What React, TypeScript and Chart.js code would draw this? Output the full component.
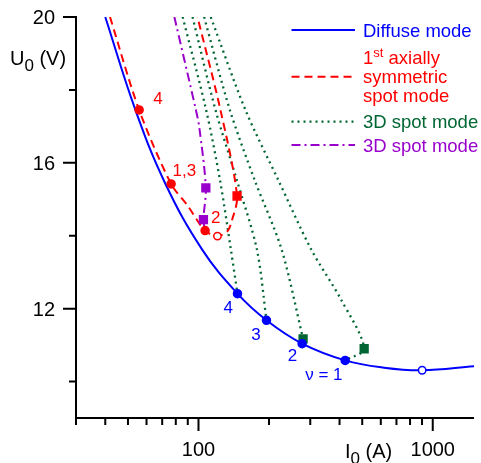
import React, { useEffect, useRef } from 'react';
import { Chart, registerables } from 'chart.js';

Chart.register(...registerables);

// ---------- data (I0 in A, U0 in V) ----------
// Diffuse mode
const diffuseCurrent = [40.0, 53.8, 72.3, 103.7, 146.7, 195.1, 276.9, 422.8, 619, 901, 1500];
const diffuseVoltage = [20.0, 17.45, 15.42, 13.62, 12.41, 11.68, 11.04, 10.58, 10.38, 10.31, 10.42];

// 1st axially symmetric spot mode
const axialCurrent = [41.9, 55.8, 76.4, 90.0, 106.7, 120.5, 132.8, 138.8, 146.1, 124.1, 99.0];
const axialVoltage = [20.0, 17.45, 15.42, 14.82, 14.14, 13.99, 14.12, 14.41, 15.09, 17.45, 20.0];

// 3D spot mode (purple)
const purpleCurrent = [78.9, 97.5, 100.7, 107.5, 105.0, 106.7];
const purpleVoltage = [20.0, 17.45, 16.99, 15.31, 14.44, 14.14];

// 3D spot modes (green)
const green1Current = [85.6, 107.8, 123.5, 137.5, 146.7];
const green1Voltage = [20.0, 17.45, 15.53, 13.62, 12.41];
const green2Current = [94.3, 118.2, 145.7, 177.6, 195.1];
const green2Voltage = [20.0, 17.45, 15.53, 13.62, 11.68];
const green3Current = [105.7, 136.1, 173.6, 226.4, 279.6];
const green3Voltage = [20.0, 17.45, 15.53, 13.62, 11.17];
const green4Current = [112.8, 158.6, 219.0, 303.0, 405.9, 509.6, 422.8];
const green4Voltage = [20.0, 17.45, 15.53, 13.62, 12.25, 10.9, 10.58];

// markers
const blueDotCurrent = [146.7, 195.1, 276.9, 422.8];
const blueDotVoltage = [12.41, 11.68, 11.04, 10.58];
const blueOpenCurrent = [901];
const blueOpenVoltage = [10.31];
const redDotCurrent = [55.8, 76.4, 106.7];
const redDotVoltage = [17.45, 15.42, 14.14];
const redOpenCurrent = [120.5];
const redOpenVoltage = [13.99];
const redSquareCurrent = [146.1];
const redSquareVoltage = [15.09];
const greenSquareCurrent = [279.6, 509.6];
const greenSquareVoltage = [11.17, 10.9];
const purpleSquareCurrent = [107.5, 105.0];
const purpleSquareVoltage = [15.31, 14.44];

// point annotations
const redLabels = ['4', '1,3', '2'];
const redLabelCurrent = [67.1, 87.0, 118.5];
const redLabelVoltage = [17.74, 15.78, 14.48];
const blueLabels = ['4', '3', '2', 'ν = 1'];
const blueLabelCurrent = [133.9, 175.8, 252, 343];
const blueLabelVoltage = [12.0, 11.26, 10.7, 10.17];

// axes
const xLabelTicks = [100, 1000];
const xMinorTicks = [30, 40, 50, 60, 70, 80, 90, 200, 300, 400, 500, 600, 700, 800, 900];
const yLabelTicks = [12, 16, 20];
const yMinorTicks = [10, 14, 18];

// legend
const legendDiffuse = 'Diffuse mode';
const legendAxial = ['1', 'st', ' axially', 'symmetric', 'spot mode'];
const legend3D = '3D spot mode';

const FONT = "'Liberation Sans', Arial, Helvetica, sans-serif";
const BLUE = '#0000ff';
const RED = '#ff0000';
const GREEN = '#006633';
const PURPLE = '#9900cc';
const GREEN_DASH = [2, 4];

const pts = (xs: number[], ys: number[]) => xs.map((x, i) => ({ x, y: ys[i] }));

const lineDs = (label: string, xs: number[], ys: number[], color: string, width: number, dash: number[], tension: number) => ({
  label,
  data: pts(xs, ys),
  showLine: true,
  borderColor: color,
  backgroundColor: color,
  borderWidth: width,
  borderDash: dash,
  borderCapStyle: 'butt',
  pointRadius: 0,
  pointHoverRadius: 0,
  tension,
  fill: false,
  order: 2,
});

const markerDs = (label: string, xs: number[], ys: number[], style: string, radius: number, fillC: string, stroke: string) => ({
  label,
  data: pts(xs, ys),
  showLine: false,
  pointStyle: style,
  pointRadius: radius,
  pointHoverRadius: radius,
  pointBackgroundColor: fillC,
  pointBorderColor: stroke,
  pointBorderWidth: 1.5,
  borderColor: stroke,
  backgroundColor: fillC,
  order: 1,
});

const overlay = {
  id: 'overlay',
  afterDraw(chart: any) {
    const ctx = chart.ctx as CanvasRenderingContext2D;
    const xs = chart.scales.x;
    const ys = chart.scales.y;
    const a = chart.chartArea;
    ctx.save();

    // axes
    ctx.strokeStyle = '#000';
    ctx.lineWidth = 2;
    ctx.lineCap = 'butt';
    ctx.beginPath();
    ctx.moveTo(a.left, a.top - 1);
    ctx.lineTo(a.left, a.bottom + 1);
    ctx.moveTo(a.left - 1, a.bottom);
    ctx.lineTo(a.right, a.bottom);
    ctx.stroke();

    // tick marks
    ctx.beginPath();
    for (const v of xMinorTicks) {
      const p = xs.getPixelForValue(v);
      ctx.moveTo(p, a.bottom);
      ctx.lineTo(p, a.bottom + 7);
    }
    for (const v of xLabelTicks) {
      const p = xs.getPixelForValue(v);
      ctx.moveTo(p, a.bottom);
      ctx.lineTo(p, a.bottom + 13);
    }
    for (const v of yMinorTicks) {
      const p = ys.getPixelForValue(v);
      ctx.moveTo(a.left, p);
      ctx.lineTo(a.left - 7, p);
    }
    for (const v of yLabelTicks) {
      const p = ys.getPixelForValue(v);
      ctx.moveTo(a.left, p);
      ctx.lineTo(a.left - 13, p);
    }
    ctx.stroke();

    // axis titles with subscripts
    const sub = (main: string, s: string, rest: string, x: number, y: number) => {
      ctx.fillStyle = '#000';
      ctx.textAlign = 'left';
      ctx.textBaseline = 'alphabetic';
      ctx.font = `20px ${FONT}`;
      ctx.fillText(main, x, y);
      let cx = x + ctx.measureText(main).width;
      ctx.font = `17px ${FONT}`;
      ctx.fillText(s, cx, y + 6);
      cx += ctx.measureText(s).width;
      ctx.font = `20px ${FONT}`;
      ctx.fillText(rest, cx, y);
    };
    sub('U', '0', ' (V)', 10, 64.5);
    sub('I', '0', ' (A)', 345, 457.5);

    // point annotations
    ctx.font = `17px ${FONT}`;
    ctx.textAlign = 'center';
    ctx.textBaseline = 'middle';
    ctx.fillStyle = RED;
    redLabels.forEach((t, i) => {
      ctx.fillText(t, xs.getPixelForValue(redLabelCurrent[i]), ys.getPixelForValue(redLabelVoltage[i]));
    });
    ctx.fillStyle = BLUE;
    blueLabels.forEach((t, i) => {
      ctx.fillText(t, xs.getPixelForValue(blueLabelCurrent[i]), ys.getPixelForValue(blueLabelVoltage[i]));
    });

    // legend
    const lx0 = 291.5;
    const lx1 = 355;
    const tx = 363;
    const legLine = (y: number, color: string, width: number, dash: number[]) => {
      ctx.save();
      ctx.strokeStyle = color;
      ctx.lineWidth = width;
      ctx.setLineDash(dash);
      ctx.beginPath();
      ctx.moveTo(lx0, y);
      ctx.lineTo(lx1, y);
      ctx.stroke();
      ctx.restore();
    };
    ctx.textAlign = 'left';
    ctx.textBaseline = 'alphabetic';
    const LF = `18.5px ${FONT}`;

    legLine(30, BLUE, 2, []);
    ctx.font = LF;
    ctx.fillStyle = BLUE;
    ctx.fillText(legendDiffuse, tx, 36.5);

    legLine(76.7, RED, 2, [8, 5]);
    ctx.fillStyle = RED;
    ctx.font = LF;
    ctx.fillText(legendAxial[0], tx, 64);
    let cx = tx + ctx.measureText(legendAxial[0]).width;
    ctx.font = `13px ${FONT}`;
    ctx.fillText(legendAxial[1], cx, 57);
    cx += ctx.measureText(legendAxial[1]).width;
    ctx.font = LF;
    ctx.fillText(legendAxial[2], cx, 64);
    ctx.fillText(legendAxial[3], tx, 83.3);
    ctx.fillText(legendAxial[4], tx, 102);

    legLine(121.7, GREEN, 2.3, GREEN_DASH);
    ctx.fillStyle = GREEN;
    ctx.fillText(legend3D, tx, 128.3);

    legLine(145, PURPLE, 2, [9, 4, 2, 4]);
    ctx.fillStyle = PURPLE;
    ctx.fillText(legend3D, tx, 151.7);

    ctx.restore();
  },
};

export default function App() {
  const ref = useRef<HTMLCanvasElement>(null);
  useEffect(() => {
    if (!ref.current) return;
    const chart = new Chart(ref.current, {
      type: 'scatter',
      data: {
        datasets: [
          markerDs('diffuse points', blueDotCurrent, blueDotVoltage, 'circle', 4, BLUE, BLUE),
          markerDs('diffuse open', blueOpenCurrent, blueOpenVoltage, 'circle', 3.7, '#ffffff', BLUE),
          markerDs('axial points', redDotCurrent, redDotVoltage, 'circle', 4, RED, RED),
          markerDs('axial open', redOpenCurrent, redOpenVoltage, 'circle', 3.7, '#ffffff', RED),
          markerDs('axial square', redSquareCurrent, redSquareVoltage, 'rect', 5.5, RED, RED),
          markerDs('green squares', greenSquareCurrent, greenSquareVoltage, 'rect', 5.5, GREEN, GREEN),
          markerDs('purple squares', purpleSquareCurrent, purpleSquareVoltage, 'rect', 5.5, PURPLE, PURPLE),
          lineDs('Diffuse mode', diffuseCurrent, diffuseVoltage, BLUE, 2, [], 0.4),
          lineDs('1st axially symmetric spot mode', axialCurrent, axialVoltage, RED, 2, [8, 5], 0.3),
          lineDs('3D spot mode (purple)', purpleCurrent, purpleVoltage, PURPLE, 2, [9, 4, 2, 4], 0.3),
          lineDs('3D spot mode 1', green1Current, green1Voltage, GREEN, 2.3, GREEN_DASH, 0.3),
          lineDs('3D spot mode 2', green2Current, green2Voltage, GREEN, 2.3, GREEN_DASH, 0.3),
          lineDs('3D spot mode 3', green3Current, green3Voltage, GREEN, 2.3, GREEN_DASH, 0.3),
          lineDs('3D spot mode 4', green4Current, green4Voltage, GREEN, 2.3, GREEN_DASH, 0.3),
        ] as any,
      },
      options: {
        animation: false,
        responsive: false,
        events: [],
        layout: { padding: { top: 17, right: 3, left: 0, bottom: 0 } },
        plugins: { legend: { display: false }, tooltip: { enabled: false } },
        scales: {
          x: {
            type: 'logarithmic',
            position: 'bottom',
            min: 30,
            max: 1500,
            afterBuildTicks: (s: any) => {
              s.ticks = xLabelTicks.map((v) => ({ value: v }));
            },
            afterFit: (s: any) => {
              s.height = 45;
              s.paddingLeft = 0;
              s.paddingRight = 0;
            },
            grid: { display: false, drawTicks: false },
            border: { display: false },
            ticks: {
              autoSkip: false,
              maxRotation: 0,
              padding: 20,
              color: '#000',
              font: { family: FONT, size: 20 },
              callback: (v: any) => String(v),
            },
          },
          y: {
            type: 'linear',
            min: 9,
            max: 20,
            afterBuildTicks: (s: any) => {
              s.ticks = yLabelTicks.map((v) => ({ value: v }));
            },
            afterFit: (s: any) => {
              s.width = 76;
              s.paddingTop = 0;
              s.paddingBottom = 0;
            },
            grid: { display: false, drawTicks: false },
            border: { display: false },
            ticks: {
              autoSkip: false,
              padding: 21,
              labelOffset: 1.5,
              color: '#000',
              font: { family: FONT, size: 20 },
              callback: (v: any) => String(v),
            },
          },
        },
      } as any,
      plugins: [overlay],
    });
    return () => chart.destroy();
  }, []);

  return (
    <div style={{ position: 'absolute', left: 0, top: 0, width: 481, height: 463, background: '#fff' }}>
      <canvas ref={ref} width={481} height={463} style={{ display: 'block' }} />
    </div>
  );
}
